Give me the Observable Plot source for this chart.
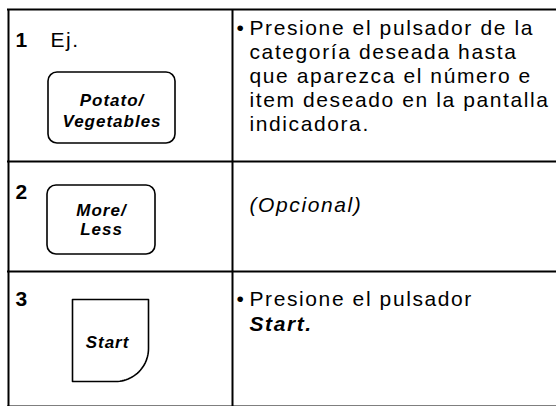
<!DOCTYPE html>
<html>
<head>
<meta charset="utf-8">
<script src="https://cdn.jsdelivr.net/npm/d3@7"></script>
<script src="https://cdn.jsdelivr.net/npm/@observablehq/plot@0.6"></script>
<style>
  body { margin: 0; background: #fff; }
  svg text.wide { letter-spacing: 1.6px; }
  svg text.btn { letter-spacing: 1px; }
</style>
</head>
<body>
<div id="chart"></div>
<script>
// ---- content ----
const steps = ["1", "2", "3"];
const stepPrefix = ["Ej.", "", ""];
const buttonLabels = [["Potato/", "Vegetables"], ["More/", "Less"], ["Start"]];
const instructionLines = [
  ["Presione el pulsador de la", "categoría deseada hasta", "que aparezca el número e", "item deseado en la pantalla", "indicadora."],
  ["(Opcional)"],
  ["Presione el pulsador", "Start."]
];
const instructionBullet = [true, false, true];

// ---- layout (pixel frame of the table) ----
const W = 556, H = 406;
const frame = { left: 8, mid: 232, right: 556, top: 9, bottom: 406 };
const rowEdges = [9, 161, 271, 406];
const stepPos = [{ x: 15, y: 46 }, { x: 15, y: 198 }, { x: 15, y: 305 }];
const prefixPos = [{ x: 50, y: 46 }];
const buttonBoxes = [
  { x1: 48, x2: 175, y1: 72, y2: 143, kind: "round" },
  { x1: 47, x2: 155, y1: 185, y2: 254, kind: "round" },
  { x1: 72, x2: 148, y1: 299, y2: 381, kind: "start" }
];
const buttonLineBase = [[105, 126], [215, 234], [347]];
const textX = 249, bulletX = 236;
const lineBase = [[34, 58, 82, 106, 130], [211], [305, 330]];

// ---- derived tables ----
const stepData = steps.map((s, i) => ({ label: s, ...stepPos[i] }));
const prefixData = stepPrefix.filter(p => p).map((p, i) => ({ label: p, ...prefixPos[i] }));
const roundButtons = buttonBoxes.filter(b => b.kind === "round");
const startBox = buttonBoxes.find(b => b.kind === "start");
const r = 33;
const startPath = [];
startPath.push([startBox.x1, startBox.y1], [startBox.x2, startBox.y1], [startBox.x2, startBox.y2 - r]);
for (let k = 0; k <= 24; k++) {
  const a = (k / 24) * Math.PI / 2;
  startPath.push([startBox.x2 - r + r * Math.cos(a), startBox.y2 - r + r * Math.sin(a)]);
}
startPath.push([startBox.x1, startBox.y2], [startBox.x1, startBox.y1]);

const btnText = [];
buttonLabels.forEach((lines, i) => {
  const b = buttonBoxes[i];
  const cx = (b.kind === "start") ? (b.x1 + b.x2) / 2 - 3 : (b.x1 + b.x2) / 2;
  lines.forEach((t, j) => btnText.push({ label: t, x: cx, y: buttonLineBase[i][j] }));
});

const instr = [];
instructionLines.forEach((lines, i) => {
  lines.forEach((t, j) => {
    const style = (i === 1) ? "italic" : (i === 2 && j === 1) ? "bolditalic" : "normal";
    instr.push({ label: t, x: textX, y: lineBase[i][j], style });
  });
});
const bullets = instructionBullet.map((b, i) => b ? { x: bulletX, y: lineBase[i][0] } : null).filter(d => d);

const font = "'Liberation Sans', Arial, Helvetica, sans-serif";
const T = (data, opts) => Plot.text(data, { x: "x", y: "y", text: "label", textAnchor: "start", lineAnchor: "bottom", fontSize: 21, fontFamily: font, fill: "#000", ...opts });

const chart = Plot.plot({
  width: W,
  height: H,
  margin: 0,
  x: { domain: [0, W], range: [0, W], axis: null },
  y: { domain: [0, H], range: [0, H], axis: null },
  style: { background: "#fff" },
  marks: [
    Plot.ruleY(rowEdges, { y: d => d, x1: frame.left - 1, x2: frame.right, stroke: "#000", strokeWidth: 2 }),
    Plot.ruleX([frame.left, frame.mid], { x: d => d, y1: frame.top, y2: frame.bottom, stroke: "#000", strokeWidth: 2 }),
    Plot.rect(roundButtons, { x1: "x1", x2: "x2", y1: "y1", y2: "y2", rx: 9, fill: "#fff", stroke: "#000", strokeWidth: 1.6 }),
    Plot.line(startPath, { x: d => d[0], y: d => d[1], stroke: "#000", strokeWidth: 1.6, curve: "linear" }),
    T(stepData, { fontSize: 21, fontWeight: "bold" }),
    T(prefixData, { className: "wide" }),
    T(btnText, { textAnchor: "middle", fontSize: 17, fontWeight: "bold", fontStyle: "italic", className: "btn" }),
    T(instr.filter(d => d.style === "normal"), { className: "wide" }),
    T(instr.filter(d => d.style === "italic"), { fontStyle: "italic", className: "wide" }),
    T(instr.filter(d => d.style === "bolditalic"), { fontStyle: "italic", fontWeight: "bold", className: "wide" }),
    T(bullets, { text: () => "•" })
  ]
});
// apply letter-spacing classes to the text elements of the marks that requested them
chart.querySelectorAll("g.wide text, g.btn text").forEach(t => t.classList.add(t.parentNode.classList.contains("wide") ? "wide" : "btn"));
document.getElementById("chart").appendChild(chart);
</script>
</body>
</html>
